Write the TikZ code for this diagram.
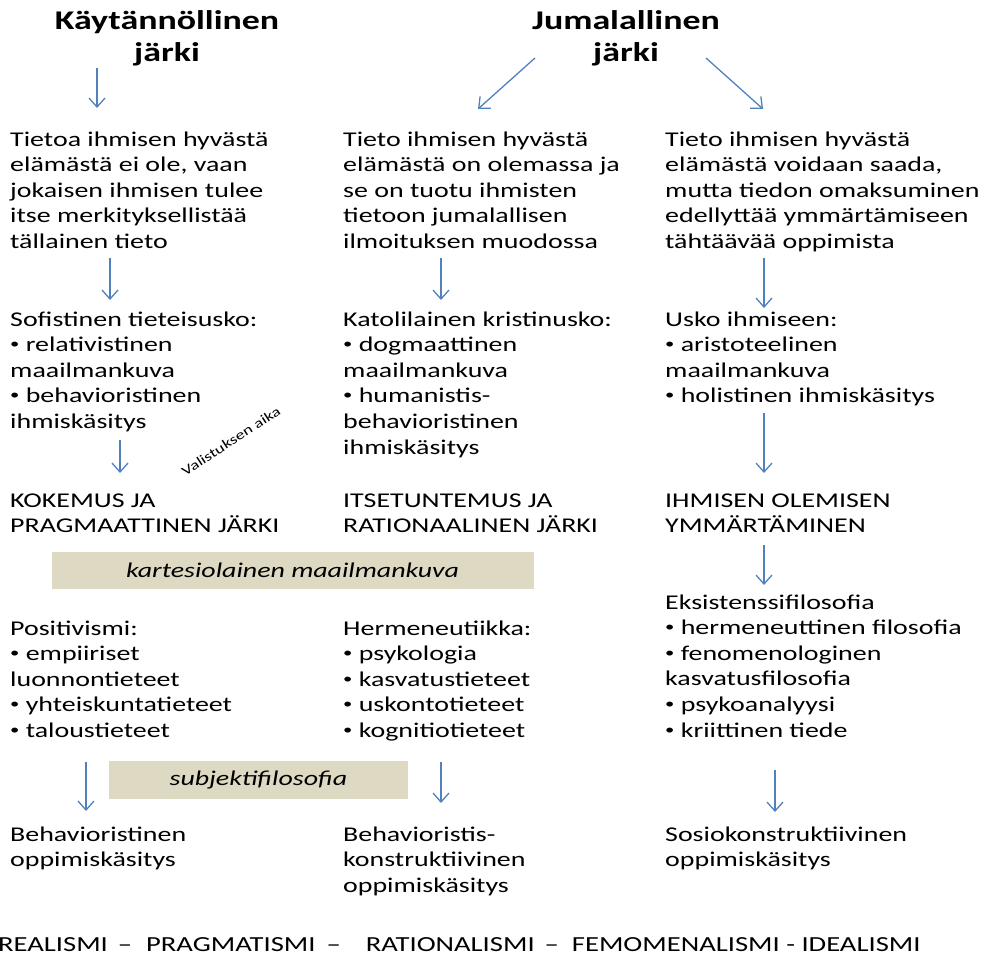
\documentclass[tikz,border=0pt]{standalone}
\usepackage{fontspec}
\setmainfont{Carlito}[FakeStretch=1.33]
\usetikzlibrary{arrows.meta}
\definecolor{arrowblue}{HTML}{4F81BD}
\definecolor{bandfill}{HTML}{DDD9C3}
% small list bullet
\newcommand{\dotitem}{\raisebox{3pt}{\fontsize{14}{14}\selectfont•}\ }

\begin{document}
\begin{tikzpicture}[x=1pt,y=-1pt,
  txt/.style={anchor=base west, inner sep=0pt, align=left,
    font=\fontsize{21}{25.6}\selectfont},
  heading/.style={anchor=base, inner sep=0pt, align=center,
    font=\fontsize{27}{32}\selectfont\bfseries},
  flow/.style={draw=arrowblue, line width=1.3pt,
    -{Straight Barb[length=9pt,width=16pt,line width=1.3pt]}},
  band/.style={fill=bandfill, inner sep=0pt,
    font=\fontsize{21}{25}\selectfont\itshape}]
\useasboundingbox (0,0) rectangle (996,955);

% headings (anchored at the baseline of their last line)
\node[heading] (h1) at (167,62) {Käytännöllinen\\järki};
\node[heading] (h2) at (626,62) {Jumalallinen\\järki};

% first row
\node[txt] (c1r1) at (10,248.4) {Tietoa ihmisen hyvästä\\elämästä ei ole, vaan\\jokaisen ihmisen tulee\\itse merkityksellistää\\tällainen tieto};
\node[txt] (c2r1) at (343,248.4) {Tieto ihmisen hyvästä\\elämästä on olemassa ja\\se on tuotu ihmisten\\tietoon jumalallisen\\ilmoituksen muodossa};
\node[txt] (c3r1) at (665,248.4) {Tieto ihmisen hyvästä\\elämästä voidaan saada,\\mutta tiedon omaksuminen\\edellyttää ymmärtämiseen\\tähtäävää oppimista};

% second row
\node[txt] (c1r2) at (10,428.4) {Sofistinen tieteisusko:\\\dotitem relativistinen\\maailmankuva\\\dotitem behavioristinen\\ihmiskäsitys};
\node[txt] (c2r2) at (343,454) {Katolilainen kristinusko:\\\dotitem dogmaattinen\\maailmankuva\\\dotitem humanistis-\\behavioristinen\\ihmiskäsitys};
\node[txt] (c3r2) at (665,402.8) {Usko ihmiseen:\\\dotitem aristoteelinen\\maailmankuva\\\dotitem holistinen ihmiskäsitys};

\node[anchor=center, inner sep=0pt, rotate=33,
  font=\fontsize{13.5}{16}\selectfont] (era) at (231,441) {Valistuksen aika};

% third row
\node[txt] (c1r3) at (10,532.6) {KOKEMUS JA\\PRAGMAATTINEN JÄRKI};
\node[txt] (c2r3) at (343,532.6) {ITSETUNTEMUS JA\\RATIONAALINEN JÄRKI};
\node[txt] (c3r3) at (665,532.6) {IHMISEN OLEMISEN\\YMMÄRTÄMINEN};

\node[band, minimum width=482pt, minimum height=37pt] (cart) at (292.5,570.5) {kartesiolainen maailmankuva};

% fourth row
\node[txt] (c3r4) at (665,737) {Eksistenssifilosofia\\\dotitem hermeneuttinen filosofia\\\dotitem fenomenologinen\\kasvatusfilosofia\\\dotitem psykoanalyysi\\\dotitem kriittinen tiede};
\node[txt] (c1r4) at (10,737.4) {Positivismi:\\\dotitem empiiriset\\luonnontieteet\\\dotitem yhteiskuntatieteet\\\dotitem taloustieteet};
\node[txt] (c2r4) at (343,737.4) {Hermeneutiikka:\\\dotitem psykologia\\\dotitem kasvatustieteet\\\dotitem uskontotieteet\\\dotitem kognitiotieteet};

\node[band, minimum width=299pt, minimum height=38pt] (subj) at (258.5,780) {subjektifilosofia};

% fifth row
\node[txt] (c1r5) at (10,866.6) {Behavioristinen\\oppimiskäsitys};
\node[txt] (c2r5) at (343,892.2) {Behavioristis-\\konstruktiivinen\\oppimiskäsitys};
\node[txt] (c3r5) at (665,866.6) {Sosiokonstruktiivinen\\oppimiskäsitys};

% bottom line
\node[txt, font=\fontsize{21.5}{26}\selectfont] (scale) at (-2,951) {REALISMI\hspace{10pt}–\hspace{14pt}PRAGMATISMI\hspace{11pt}–\hspace{25pt}RATIONALISMI\hspace{10pt}–\hspace{13pt}FEMOMENALISMI - IDEALISMI};

% arrow end points
\coordinate (a1s) at (97,68);   \coordinate (a1e) at (97,108);
\coordinate (a2s) at (535,58);  \coordinate (a2e) at (478,109);
\coordinate (a3s) at (706,58);  \coordinate (a3e) at (763,109);
\coordinate (b1s) at (110,258); \coordinate (b1e) at (110,300);
\coordinate (b2s) at (441,258); \coordinate (b2e) at (441,300);
\coordinate (b3s) at (764,258); \coordinate (b3e) at (764,308);
\coordinate (d1s) at (120,440); \coordinate (d1e) at (120,473);
\coordinate (d3s) at (764,413); \coordinate (d3e) at (764,473);
\coordinate (e3s) at (764,545); \coordinate (e3e) at (764,585);
\coordinate (f1s) at (86,762);  \coordinate (f1e) at (86,811);
\coordinate (f2s) at (441,762); \coordinate (f2e) at (441,803);
\coordinate (f3s) at (775,770); \coordinate (f3e) at (775,812);

\foreach \s/\e in {a1s/a1e,a2s/a2e,a3s/a3e,b1s/b1e,b2s/b2e,b3s/b3e,
                   d1s/d1e,d3s/d3e,e3s/e3e,f1s/f1e,f2s/f2e,f3s/f3e}
  \draw[flow] (\s) -- (\e);
\end{tikzpicture}
\end{document}
